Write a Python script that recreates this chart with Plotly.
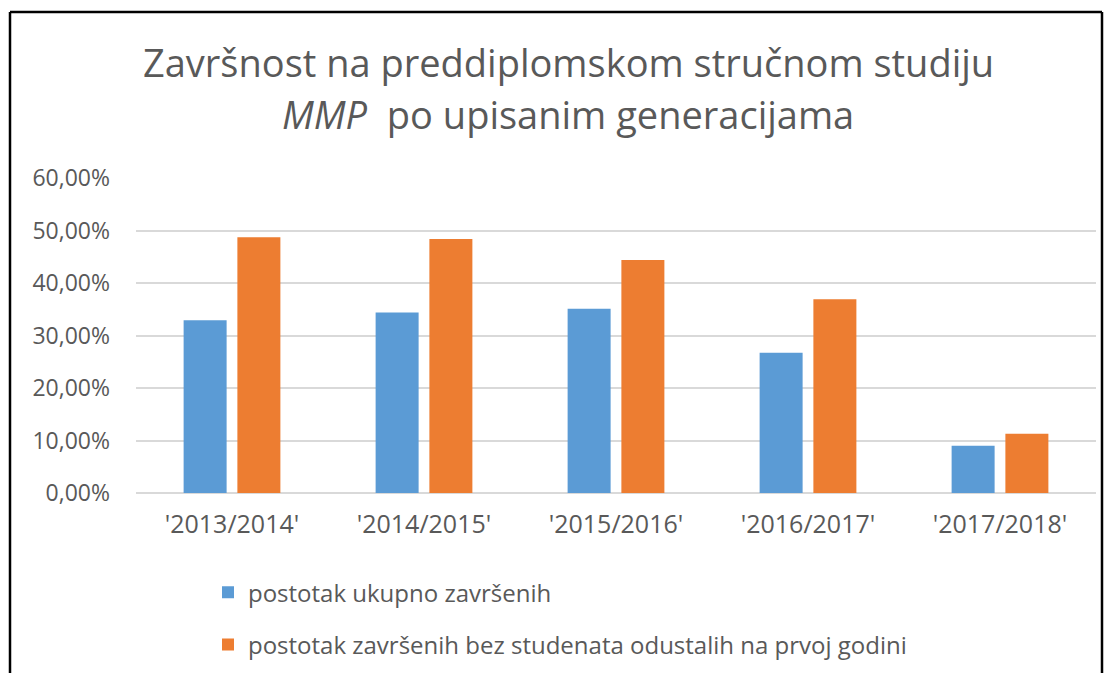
import plotly.graph_objects as go

# ── Data ──────────────────────────────────────────────────────────────────────
generacije = ["'2013/2014'", "'2014/2015'", "'2015/2016'", "'2016/2017'", "'2017/2018'"]
ukupno_zavrsenih = [0.329, 0.344, 0.351, 0.267, 0.090]
bez_odustalih = [0.487, 0.484, 0.444, 0.369, 0.113]

serija_nazivi = [
    "postotak ukupno završenih",
    "postotak završenih bez studenata odustalih na prvoj godini",
]

_BLUE = "#5b9bd5"
_ORANGE = "#ed7d31"
_GREY = "#595959"
_FONT = "'Open Sans', 'Noto Sans', sans-serif"

fig = go.Figure()
fig.add_trace(go.Bar(x=generacije, y=ukupno_zavrsenih, name=serija_nazivi[0],
                     marker=dict(color=_BLUE, line=dict(width=0)), legendgroup="a"))
fig.add_trace(go.Bar(x=generacije, y=bez_odustalih, name=serija_nazivi[1],
                     marker=dict(color=_ORANGE, line=dict(width=0)), legendgroup="b"))

fig.update_layout(
    width=1112,
    height=673,
    paper_bgcolor="white",
    plot_bgcolor="white",
    separators=",.",
    font=dict(family=_FONT, size=20, color=_GREY),
    margin=dict(l=136, r=16, t=178, b=180, autoexpand=False),
    barmode="group",
    bargap=0.44,
    bargroupgap=0.2,
    showlegend=True,
    legend=dict(
        x=0.075, y=-0.245, xanchor="left", yanchor="top",
        orientation="v", tracegroupgap=18,
        font=dict(size=24, color=_GREY),
        itemwidth=30,
    ),
    xaxis=dict(showgrid=False, showline=False, ticks="", ticklabelstandoff=14,
               tickfont=dict(size=25)),
    yaxis=dict(
        range=[0, 0.6], dtick=0.1, tickformat=".2%",
        gridcolor="#d9d9d9", gridwidth=1.5,
        zeroline=True, zerolinecolor="#d9d9d9", zerolinewidth=1.5,
        showline=False, ticks="", ticklabelstandoff=25,
        tickfont=dict(size=23),
    ),
)

# two-line title, second line partly italic
fig.add_annotation(text="Završnost na preddiplomskom stručnom studiju",
                   xref="paper", yref="paper", x=0.45, y=1.0 + 116 / 315,
                   xanchor="center", yanchor="middle", showarrow=False,
                   font=dict(size=38, color=_GREY))
fig.add_annotation(text="<i>MMP</i>&nbsp;&nbsp;po upisanim generacijama",
                   xref="paper", yref="paper", x=0.45, y=1.0 + 64 / 315,
                   xanchor="center", yanchor="middle", showarrow=False,
                   font=dict(size=38, color=_GREY))

# frame around the chart (left, top, right)
px_x = lambda v: (v - 136) / 960
px_y = lambda v: (493 - v) / 315
fig.add_shape(type="line", xref="paper", yref="paper",
              x0=px_x(10), x1=px_x(10), y0=px_y(12), y1=px_y(673),
              line=dict(color="black", width=2.5))
fig.add_shape(type="line", xref="paper", yref="paper",
              x0=px_x(10), x1=px_x(1102), y0=px_y(12), y1=px_y(12),
              line=dict(color="black", width=2.5))
fig.add_shape(type="line", xref="paper", yref="paper",
              x0=px_x(1102), x1=px_x(1102), y0=px_y(12), y1=px_y(673),
              line=dict(color="black", width=2.5))

fig.write_html("out.html", config={"displayModeBar": False},
               post_script="document.body.style.margin='0';")
